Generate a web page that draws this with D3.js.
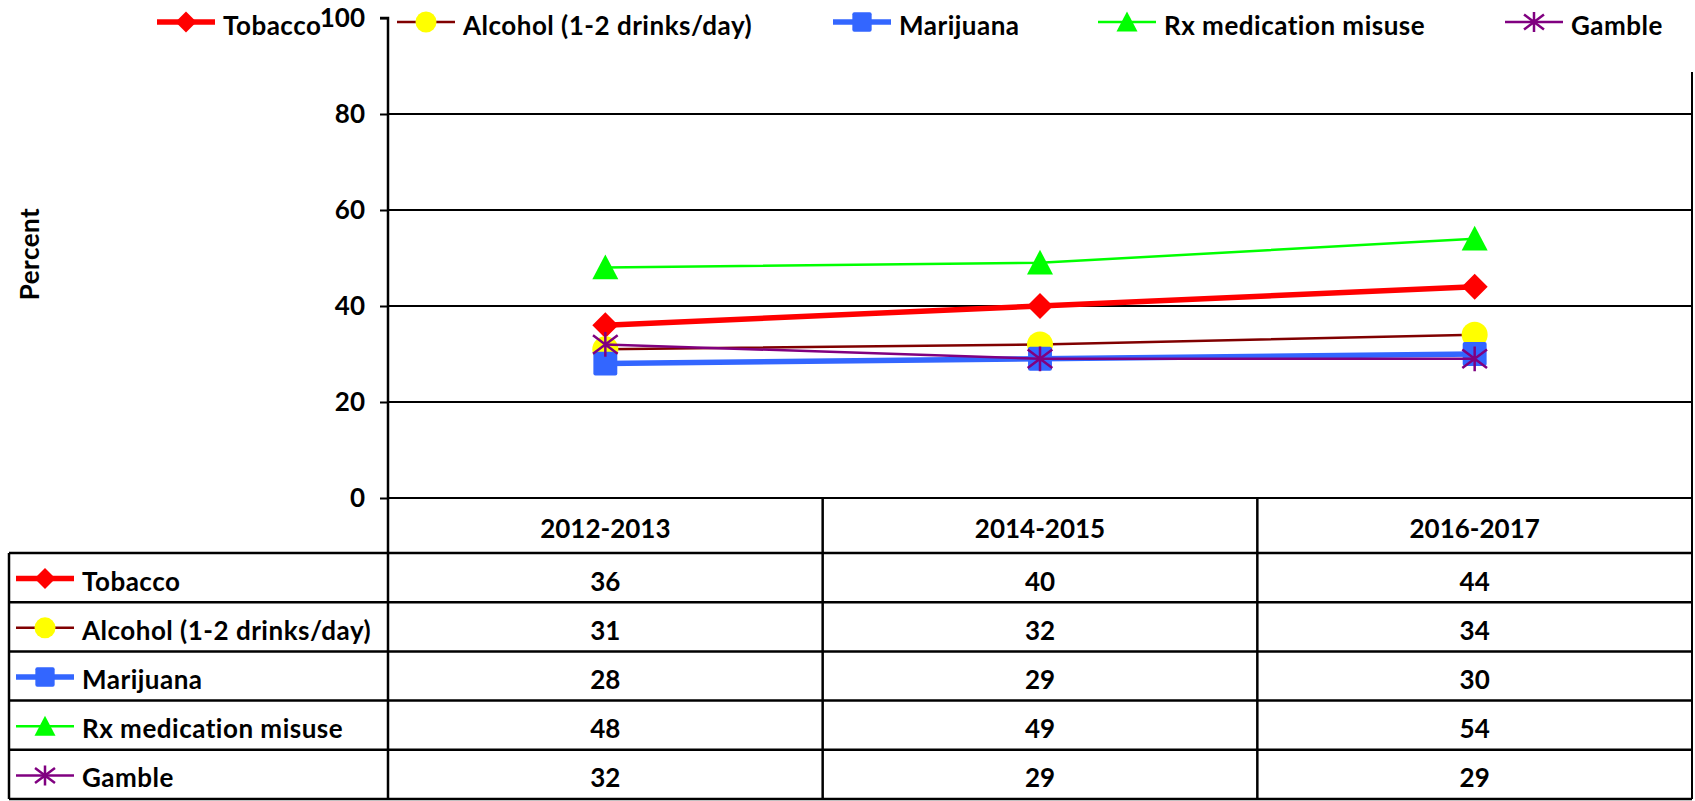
<!DOCTYPE html>
<html>
<head>
<meta charset="utf-8">
<script src="https://cdn.jsdelivr.net/npm/d3@7"></script>
<style>
  html, body { margin: 0; padding: 0; background: #fff; }
  svg { display: block; }
  text { font-family: Lato, "Open Sans", sans-serif; font-weight: bold; fill: #000; }
</style>
</head>
<body>
<svg id="chart" width="1695" height="801"></svg>
<script>
// ---------- data ----------
const categories = ["2012-2013", "2014-2015", "2016-2017"];
const seriesNames = ["Tobacco", "Alcohol (1-2 drinks/day)", "Marijuana", "Rx medication misuse", "Gamble"];
const tobacco   = [36, 40, 44];
const alcohol   = [31, 32, 34];
const marijuana = [28, 29, 30];
const rxMisuse  = [48, 49, 54];
const gamble    = [32, 29, 29];
const yTicks    = [0, 20, 40, 60, 80, 100];
const gridTicks = [0, 20, 40, 60, 80];
const yLabel    = "Percent";

// ---------- styles ----------
const styles = [
  { color: "#FF0000", lw: 5.5, marker: "diamond",  mfill: "#FF0000" },
  { color: "#800000", lw: 2.5, marker: "circle",   mfill: "#FFFF00" },
  { color: "#3366FF", lw: 5.5, marker: "square",   mfill: "#3366FF" },
  { color: "#00FF00", lw: 2.5, marker: "triangle", mfill: "#00FF00" },
  { color: "#800080", lw: 2.5, marker: "star",     mfill: "#800080" }
];
const seriesValues = [tobacco, alcohol, marijuana, rxMisuse, gamble];
const series = seriesNames.map((name, i) => ({ name, values: seriesValues[i], ...styles[i] }));

const svg = d3.select("#chart");
const FONT = 26;
const NAME_SPACING = 0.5;

const plotLeft = 388, plotRight = 1692, plotTop = 18, plotBottom = 498;
const x = d3.scaleBand().domain(categories).range([plotLeft, plotRight]);
const y = d3.scaleLinear().domain([0, 100]).range([plotBottom, plotTop]);
const tableLeft = 9, tableBottom = 799;
const rowScale = d3.scaleBand().domain(seriesNames).range([553, tableBottom]);
const headerTop = plotBottom, headerBottom = 553;

// marker drawing (centered at 0,0)
function drawMarker(g, type, fill, s) {
  const h = s / 2;
  if (type === "diamond") {
    g.append("path").attr("d", `M0,${-h}L${h},0L0,${h}L${-h},0Z`).attr("fill", fill);
  } else if (type === "circle") {
    g.append("circle").attr("r", h).attr("fill", fill);
  } else if (type === "square") {
    g.append("rect").attr("x", -h * 0.92).attr("y", -h * 0.92).attr("width", s * 0.92).attr("height", s * 0.92)
      .attr("rx", 2).attr("fill", fill);
  } else if (type === "triangle") {
    g.append("path").attr("d", `M0,${-h}L${h},${h * 0.9}L${-h},${h * 0.9}Z`).attr("fill", fill);
  } else if (type === "star") {
    const k = h * 0.95;
    g.append("path")
      .attr("d", `M${-k},${-k * 0.75}L${k},${k * 0.75}M${-k},${k * 0.75}L${k},${-k * 0.75}M0,${-k}L0,${k}`)
      .attr("stroke", fill).attr("stroke-width", 2.5).attr("fill", "none");
  }
}

// ---------- gridlines ----------
svg.append("g").selectAll("line").data(gridTicks).join("line")
  .attr("x1", plotLeft).attr("x2", plotRight)
  .attr("y1", d => y(d)).attr("y2", d => y(d))
  .attr("stroke", "#000").attr("stroke-width", 2);

// right border of plot + table
svg.append("line").attr("x1", plotRight).attr("x2", plotRight).attr("y1", 72).attr("y2", tableBottom)
  .attr("stroke", "#000").attr("stroke-width", 2);

// ---------- y axis ----------
const yAxis = d3.axisLeft(y).tickValues(yTicks).tickSize(8).tickPadding(15).tickFormat(d3.format("d"));
const ax = svg.append("g").attr("transform", `translate(${plotLeft},0)`).call(yAxis);
ax.select(".domain").attr("stroke", "#000").attr("stroke-width", 2.5).attr("d", `M-8,${y(100)}H0V${plotBottom}`);
ax.selectAll(".tick line").attr("stroke", "#000").attr("stroke-width", 2);
ax.selectAll(".tick text").attr("font-size", FONT).attr("font-family", "Lato, sans-serif").attr("font-weight", "bold").attr("fill", "#000");

svg.append("text").attr("transform", `translate(29,254) rotate(-90)`)
  .attr("text-anchor", "middle").attr("dominant-baseline", "central").attr("font-size", FONT)
  .attr("letter-spacing", NAME_SPACING)
  .text(yLabel);

// ---------- table ----------
const table = svg.append("g");
const colEdges = [plotLeft, ...categories.slice(1).map(c => x(c))];
table.selectAll("line.v").data(colEdges).join("line").attr("class", "v")
  .attr("x1", d => d).attr("x2", d => d).attr("y1", headerTop).attr("y2", tableBottom)
  .attr("stroke", "#000").attr("stroke-width", 2.5);
table.append("line").attr("x1", tableLeft).attr("x2", tableLeft).attr("y1", headerBottom).attr("y2", tableBottom)
  .attr("stroke", "#000").attr("stroke-width", 2.5);
const rowEdges = [headerBottom, ...seriesNames.slice(1).map(n => rowScale(n)), tableBottom];
table.selectAll("line.h").data(rowEdges).join("line").attr("class", "h")
  .attr("x1", tableLeft).attr("x2", plotRight).attr("y1", d => d).attr("y2", d => d)
  .attr("stroke", "#000").attr("stroke-width", 2.5);
table.selectAll("text.hdr").data(categories).join("text").attr("class", "hdr")
  .attr("x", d => x(d) + x.bandwidth() / 2).attr("y", (headerTop + headerBottom) / 2 + 2)
  .attr("text-anchor", "middle").attr("dominant-baseline", "central").attr("font-size", FONT)
  .text(d => d);
series.forEach(s => {
  const cy = rowScale(s.name) + rowScale.bandwidth() / 2 + 1;
  const row = table.append("g");
  row.append("line").attr("x1", 16).attr("x2", 74).attr("y1", cy).attr("y2", cy)
    .attr("stroke", s.color).attr("stroke-width", s.lw);
  drawMarker(row.append("g").attr("transform", `translate(45,${cy})`), s.marker, s.mfill, 21);
  row.append("text").attr("x", 82).attr("y", cy + 2).attr("dominant-baseline", "central")
    .attr("font-size", FONT).attr("letter-spacing", NAME_SPACING).text(s.name);
  row.selectAll("text.val").data(s.values).join("text").attr("class", "val")
    .attr("x", (d, i) => x(categories[i]) + x.bandwidth() / 2).attr("y", cy + 2)
    .attr("text-anchor", "middle").attr("dominant-baseline", "central").attr("font-size", FONT)
    .text(d => d);
});

// ---------- series lines & markers ----------
const line = d3.line().x((d, i) => x(categories[i]) + x.bandwidth() / 2).y(d => y(d));
series.forEach(s => {
  const g = svg.append("g");
  g.append("path").attr("d", line(s.values)).attr("fill", "none")
    .attr("stroke", s.color).attr("stroke-width", s.lw);
  s.values.forEach((v, i) => {
    drawMarker(g.append("g").attr("transform", `translate(${x(categories[i]) + x.bandwidth() / 2},${y(v)})`),
      s.marker, s.mfill, 26);
  });
});

// ---------- legend ----------
const legendX = [157, 397, 833, 1098, 1505];
const legend = svg.append("g");
series.forEach((s, i) => {
  const lx = legendX[i], ly = 22;
  legend.append("line").attr("x1", lx).attr("x2", lx + 58).attr("y1", ly).attr("y2", ly)
    .attr("stroke", s.color).attr("stroke-width", s.lw);
  drawMarker(legend.append("g").attr("transform", `translate(${lx + 29},${ly})`), s.marker, s.mfill, 21);
  legend.append("text").attr("x", lx + 66).attr("y", ly + 3).attr("dominant-baseline", "central")
    .attr("font-size", FONT).attr("letter-spacing", NAME_SPACING).text(s.name);
});
</script>
</body>
</html>
